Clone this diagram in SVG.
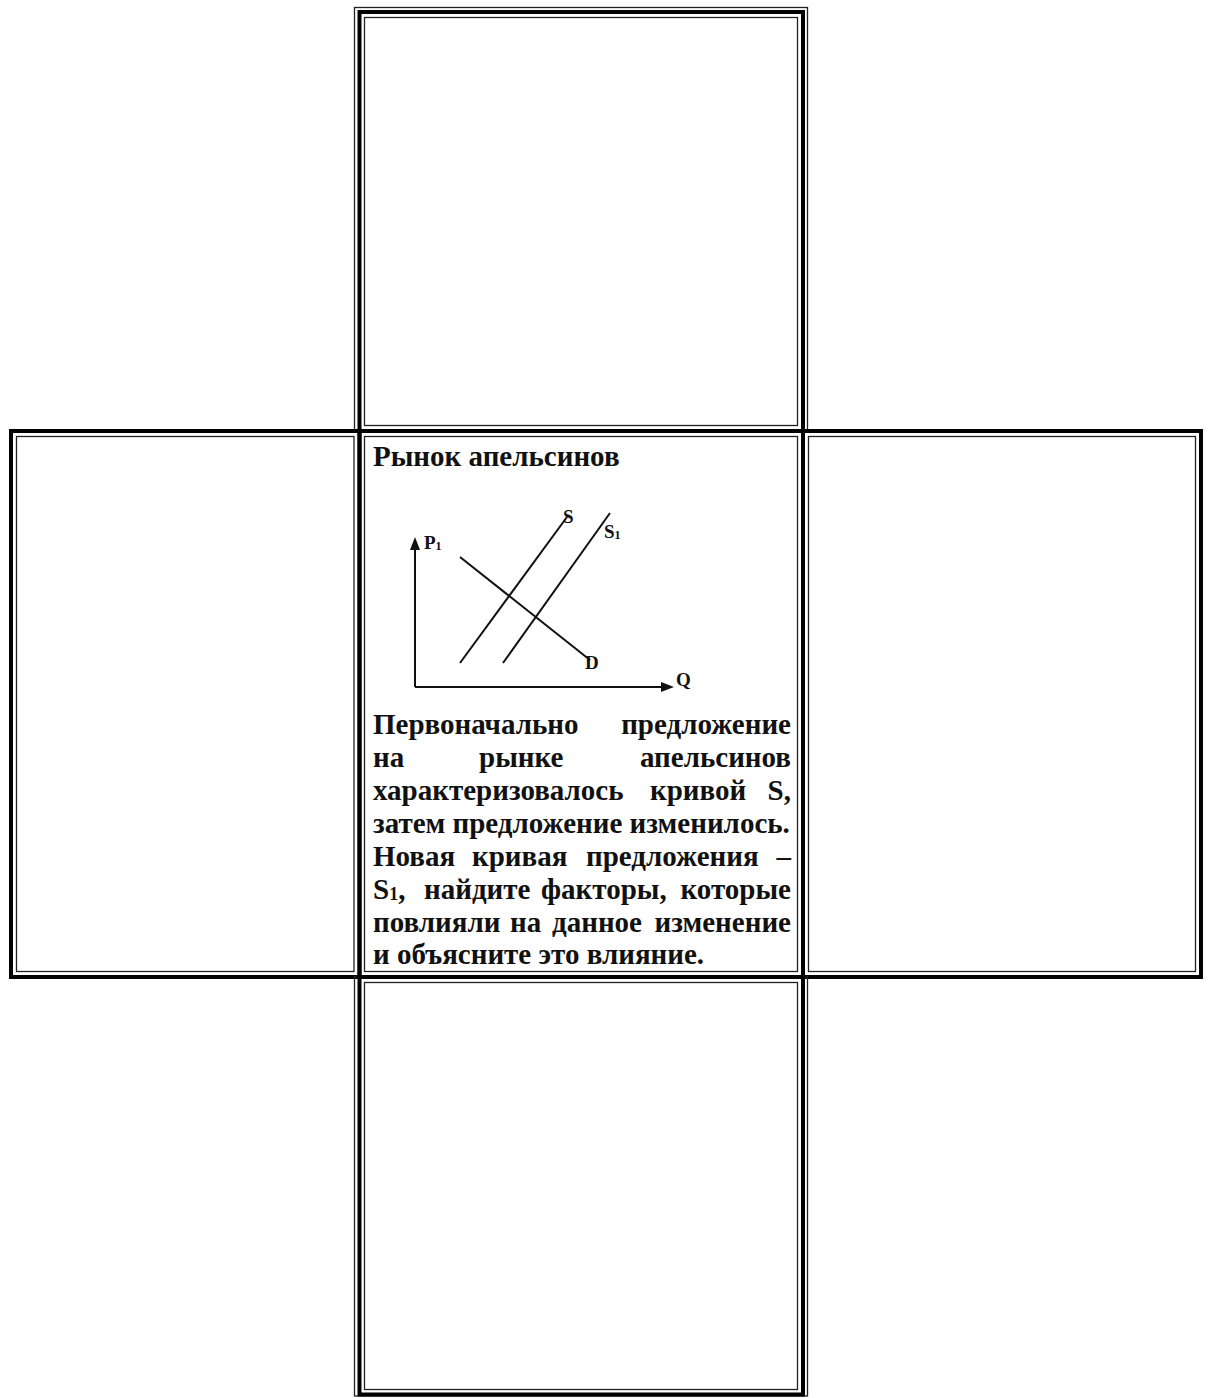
<svg xmlns="http://www.w3.org/2000/svg" width="1212" height="1398" viewBox="0 0 1212 1398">
<style>
.thick{fill:none;stroke:#000;stroke-width:4}
.thin{fill:none;stroke:#222;stroke-width:1.3}
.t{font-family:"Liberation Serif","Times New Roman",serif;font-weight:bold;font-size:29px;fill:#111}
.g{font-family:"Liberation Serif","Times New Roman",serif;font-weight:bold;font-size:19px;fill:#111}
.ln{stroke:#111;stroke-width:2;fill:none}
</style>
<rect width="1212" height="1398" fill="#fff"/>
<g id="cell-top">
<rect class="thin" x="354.5" y="7.5" width="453" height="423"/>
<rect class="thick" x="359.5" y="12" width="443.5" height="419"/>
<rect class="thin" x="364.5" y="17.5" width="433" height="408"/>
</g>
<g id="cell-left">
<rect class="thick" x="11" y="431" width="348.5" height="546"/>
<rect class="thin" x="16.5" y="436.5" width="337.5" height="535"/>
</g>
<g id="cell-right">
<rect class="thick" x="803" y="431" width="398" height="546"/>
<rect class="thin" x="808.5" y="436.5" width="387" height="535"/>
</g>
<g id="cell-bottom">
<rect class="thin" x="354.5" y="977" width="453" height="419"/>
<rect class="thick" x="359.5" y="977" width="443.5" height="417.5"/>
<rect class="thin" x="364.5" y="982.5" width="433" height="407"/>
</g>
<g id="cell-center">
<rect class="thick" x="359.5" y="431" width="443.5" height="546"/>
<rect class="thin" x="364.5" y="436.5" width="433" height="535"/>
<text class="t" x="373" y="466">Рынок апельсинов</text>
<g id="chart">
<line class="ln" x1="415" y1="687" x2="415" y2="548"/>
<polygon points="415,537 410,550 420,550" fill="#111"/>
<line class="ln" x1="415" y1="687" x2="662" y2="687"/>
<polygon points="674,687 661,682 661,692" fill="#111"/>
<line class="ln" x1="460" y1="557" x2="590" y2="660"/>
<line class="ln" x1="460" y1="663" x2="567" y2="517"/>
<line class="ln" x1="503" y1="663" x2="610" y2="513"/>
<text class="g" x="424" y="549">P<tspan font-size="12" dy="1">1</tspan></text>
<text class="g" x="563" y="523">S</text>
<text class="g" x="604" y="538">S<tspan font-size="12" dy="1">1</tspan></text>
<text class="g" x="585" y="669">D</text>
<text class="g" x="676" y="686">Q</text>
</g>
<g id="body">
<text class="t" y="734"><tspan x="373">Первоначально</tspan><tspan x="791" text-anchor="end">предложение</tspan></text>
<text class="t" y="767"><tspan x="373">на</tspan><tspan x="479">рынке</tspan><tspan x="791" text-anchor="end">апельсинов</tspan></text>
<text class="t" y="800"><tspan x="373">характеризовалось</tspan><tspan x="650">кривой</tspan><tspan x="791" text-anchor="end">S,</tspan></text>
<text class="t" x="373" y="833">затем предложение изменилось.</text>
<text class="t" y="866"><tspan x="373">Новая</tspan><tspan x="472">кривая</tspan><tspan x="586">предложения</tspan><tspan x="791" text-anchor="end">–</tspan></text>
<text class="t" y="899"><tspan x="373">S</tspan><tspan font-size="18" dy="1">1</tspan><tspan dy="-1">,</tspan><tspan x="424">найдите</tspan><tspan x="541">факторы,</tspan><tspan x="791" text-anchor="end">которые</tspan></text>
<text class="t" y="932"><tspan x="373">повлияли</tspan><tspan x="510">на</tspan><tspan x="552">данное</tspan><tspan x="791" text-anchor="end">изменение</tspan></text>
<text class="t" x="373" y="964">и объясните это влияние.</text>
</g>
</g>
</svg>
